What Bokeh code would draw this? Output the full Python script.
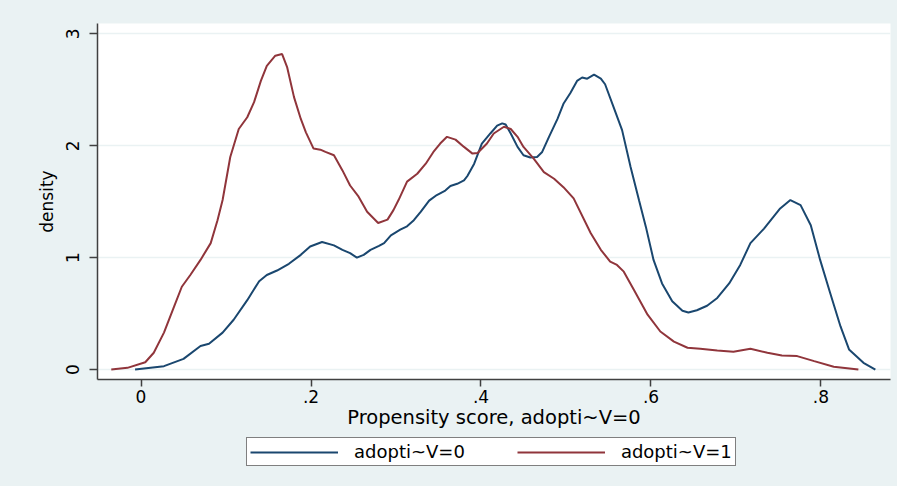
from bokeh.plotting import figure
from bokeh.models import Range1d, FixedTicker, Legend, LegendItem
from bokeh.layouts import column
from bokeh.embed import file_html
from bokeh.resources import INLINE

# Kernel density, adopti~V=0 (blue)
x0 = [-0.007, 0.027, 0.050, 0.070, 0.080, 0.096, 0.109, 0.125, 0.139, 0.148, 0.160, 0.174,
      0.188, 0.199, 0.213, 0.227, 0.237, 0.246, 0.254, 0.262, 0.270, 0.280, 0.286, 0.294,
      0.305, 0.313, 0.321, 0.329, 0.339, 0.348, 0.358, 0.364, 0.372, 0.380, 0.384, 0.392,
      0.401, 0.411, 0.419, 0.425, 0.429, 0.435, 0.443, 0.450, 0.458, 0.466, 0.472, 0.480,
      0.490, 0.497, 0.505, 0.513, 0.519, 0.525, 0.533, 0.541, 0.546, 0.556, 0.566, 0.576,
      0.586, 0.594, 0.603, 0.613, 0.625, 0.637, 0.644, 0.654, 0.666, 0.678, 0.692, 0.705,
      0.717, 0.733, 0.752, 0.764, 0.776, 0.788, 0.799, 0.811, 0.823, 0.833, 0.850, 0.864]
d0 = [0.00, 0.03, 0.095, 0.21, 0.23, 0.33, 0.445, 0.62, 0.79, 0.845, 0.885, 0.945,
      1.025, 1.10, 1.14, 1.11, 1.07, 1.04, 1.00, 1.025, 1.07, 1.105, 1.13, 1.20,
      1.25, 1.28, 1.335, 1.41, 1.51, 1.56, 1.60, 1.64, 1.66, 1.69, 1.73, 1.84,
      2.02, 2.11, 2.18, 2.20, 2.19, 2.11, 1.99, 1.915, 1.895, 1.90, 1.945, 2.08,
      2.24, 2.375, 2.47, 2.58, 2.61, 2.60, 2.635, 2.60, 2.55, 2.345, 2.14, 1.81,
      1.51, 1.275, 0.98, 0.77, 0.61, 0.525, 0.51, 0.53, 0.57, 0.64, 0.77, 0.935,
      1.13, 1.26, 1.44, 1.515, 1.47, 1.29, 0.98, 0.68, 0.385, 0.18, 0.06, 0.00]

# Kernel density, adopti~V=1 (red)
x1 = [-0.035, -0.016, 0.005, 0.015, 0.027, 0.039, 0.048, 0.058, 0.070, 0.082, 0.090, 0.096,
      0.105, 0.115, 0.125, 0.133, 0.141, 0.148, 0.158, 0.166, 0.172, 0.180, 0.188, 0.194,
      0.203, 0.211, 0.217, 0.227, 0.237, 0.246, 0.256, 0.266, 0.279, 0.290, 0.297, 0.303,
      0.313, 0.325, 0.335, 0.344, 0.352, 0.360, 0.370, 0.380, 0.390, 0.396, 0.407, 0.415,
      0.427, 0.435, 0.443, 0.450, 0.462, 0.474, 0.486, 0.497, 0.509, 0.529, 0.541, 0.552,
      0.560, 0.568, 0.580, 0.596, 0.611, 0.627, 0.643, 0.658, 0.678, 0.697, 0.717, 0.737,
      0.754, 0.772, 0.792, 0.815, 0.844]
d1 = [0.00, 0.015, 0.065, 0.15, 0.33, 0.565, 0.74, 0.845, 0.98, 1.13, 1.335, 1.515,
      1.90, 2.15, 2.255, 2.39, 2.58, 2.715, 2.805, 2.82, 2.70, 2.435, 2.24, 2.12,
      1.975, 1.965, 1.945, 1.915, 1.78, 1.645, 1.545, 1.41, 1.31, 1.34, 1.425, 1.515,
      1.68, 1.75, 1.84, 1.945, 2.02, 2.08, 2.055, 1.99, 1.93, 1.935, 2.02, 2.11,
      2.17, 2.15, 2.08, 1.99, 1.885, 1.765, 1.705, 1.63, 1.53, 1.22, 1.07, 0.965,
      0.935, 0.875, 0.71, 0.49, 0.34, 0.25, 0.195, 0.185, 0.17, 0.16, 0.185, 0.15,
      0.125, 0.12, 0.075, 0.025, 0.00]

x_ticks = [0, 0.2, 0.4, 0.6, 0.8]
x_tick_labels = ["0", ".2", ".4", ".6", ".8"]
y_ticks = [0, 1, 2, 3]
y_tick_labels = ["0", "1", "2", "3"]
series_labels = ["adopti~V=0", "adopti~V=1"]

BG = "#EAF2F3"
BLUE = "#1A476F"
RED = "#90353B"
FONT = "DejaVu Sans"

p = figure(width=897, height=431, output_backend="svg", toolbar_location=None,
           x_range=Range1d(-0.0512, 0.8818), y_range=Range1d(-0.089, 3.093),
           min_border_left=97, min_border_right=7, min_border_top=23, min_border_bottom=50)
p.background_fill_color = "white"
p.border_fill_color = BG
p.outline_line_color = None

p.xgrid.visible = False
p.ygrid.grid_line_color = BG
p.ygrid.grid_line_width = 1.5
p.ygrid.ticker = FixedTicker(ticks=y_ticks)

p.xaxis.ticker = FixedTicker(ticks=x_ticks)
p.xaxis.major_label_overrides = dict(zip(x_ticks, x_tick_labels))
p.yaxis.ticker = FixedTicker(ticks=y_ticks)
p.yaxis.major_label_overrides = dict(zip(y_ticks, y_tick_labels))
p.yaxis.major_label_orientation = "vertical"

for ax in (p.xaxis[0], p.yaxis[0]):
    ax.axis_line_color = "#404040"
    ax.axis_line_width = 1.5
    ax.major_tick_line_color = "#404040"
    ax.major_tick_line_width = 1.5
    ax.major_tick_in = 0
    ax.minor_tick_line_color = None
    ax.major_label_text_font = FONT
    ax.major_label_text_font_size = "17px"
    ax.major_label_text_color = "black"
    ax.axis_label_text_font = FONT
    ax.axis_label_text_font_style = "normal"
    ax.axis_label_text_color = "black"

p.xaxis.major_tick_out = 7
p.xaxis.major_label_standoff = 3
p.xaxis.axis_label = "Propensity score, adopti~V=0"
p.xaxis.axis_label_text_font_size = "19.5px"
p.xaxis.axis_label_standoff = 0

p.yaxis.major_tick_out = 8
p.yaxis.major_label_standoff = 10
p.yaxis.axis_label = "density"
p.yaxis.axis_label_text_font_size = "17px"
p.yaxis.axis_label_standoff = 7

p.line(x0, d0, line_color=BLUE, line_width=2)
p.line(x1, d1, line_color=RED, line_width=2)

# Legend strip below the plot (same background), Stata style boxed legend.
# The same series are drawn here outside the visible y range, so only their
# legend keys show.
leg = figure(width=897, height=55, output_backend="svg", toolbar_location=None,
             x_range=Range1d(-0.0512, 0.8818), y_range=Range1d(10, 11),
             x_axis_type=None, y_axis_type=None, min_border=0)
leg.background_fill_color = BG
leg.border_fill_color = BG
leg.outline_line_color = None
leg.xgrid.visible = False
leg.ygrid.visible = False
k0 = leg.line(x0, d0, line_color=BLUE, line_width=2)
k1 = leg.line(x1, d1, line_color=RED, line_width=2)

legend = Legend(items=[LegendItem(label=series_labels[0], renderers=[k0]),
                       LegendItem(label=series_labels[1], renderers=[k1])],
                orientation="horizontal", location=(149, 20),
                border_line_color="black", border_line_width=1,
                background_fill_color="white", background_fill_alpha=1,
                padding=3, spacing=52, glyph_width=88, glyph_height=20,
                label_standoff=16, margin=0,
                label_text_font=FONT, label_text_font_size="18px",
                label_text_color="black")
leg.add_layout(legend, "center")

layout = column(p, leg, spacing=0, styles={"background-color": BG})
open("out.html", "w").write(file_html(layout, INLINE))
